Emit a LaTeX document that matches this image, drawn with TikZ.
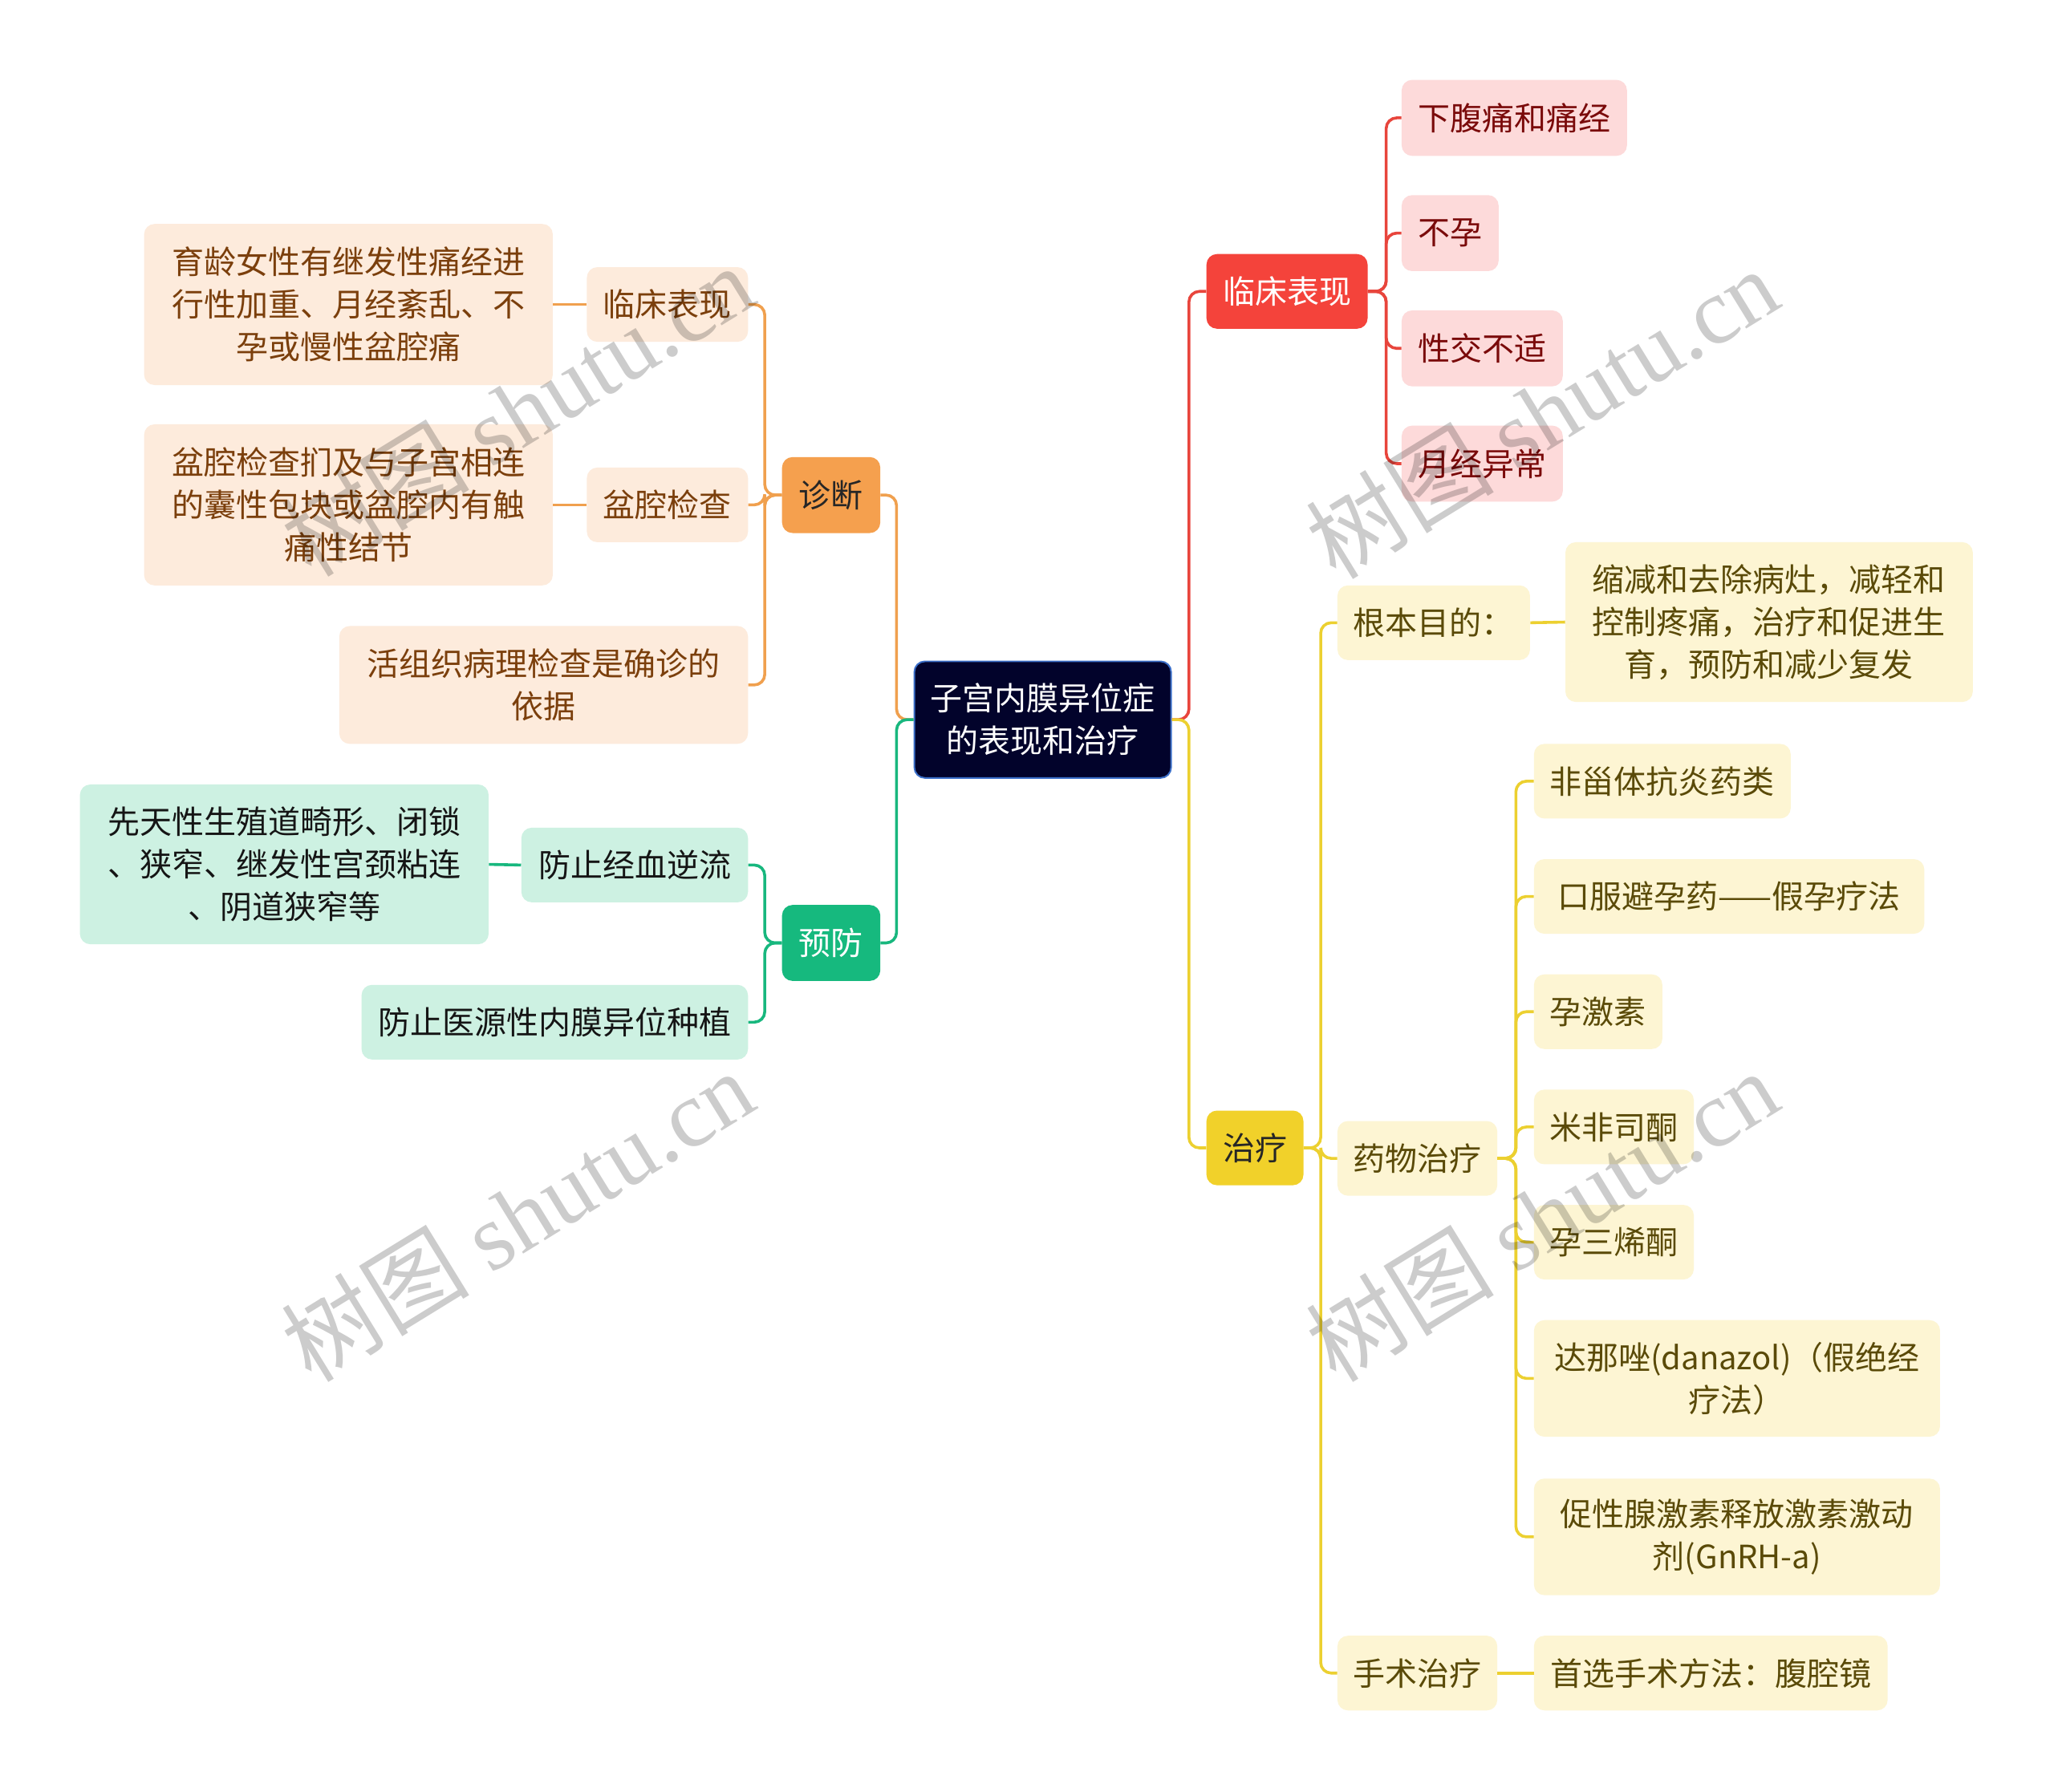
\documentclass[tikz,border=0pt]{standalone}
\usepackage{fontspec}
\setmainfont{Noto Sans CJK SC}
\newfontfamily\wmserif{Liberation Serif}
\usetikzlibrary{calc}
\definecolor{rootfill}{HTML}{02032B}
\definecolor{rootline}{HTML}{3B6FC9}
\definecolor{orgmain}{HTML}{F5A04E}
\definecolor{orglight}{HTML}{FDEBDC}
\definecolor{orgtext}{HTML}{7B3F0C}
\definecolor{orgline}{HTML}{F0A04E}
\definecolor{grnmain}{HTML}{16B97E}
\definecolor{grnlight}{HTML}{CDF1E2}
\definecolor{grntext}{HTML}{151515}
\definecolor{grnline}{HTML}{18B77E}
\definecolor{redmain}{HTML}{F4433B}
\definecolor{redlight}{HTML}{FDDADA}
\definecolor{redtext}{HTML}{7A0A0A}
\definecolor{redline}{HTML}{E8453C}
\definecolor{ylwmain}{HTML}{F1D12A}
\definecolor{ylwlight}{HTML}{FDF5D3}
\definecolor{ylwtext}{HTML}{5A4A08}
\definecolor{ylwline}{HTML}{ECD030}
\begin{document}
\begin{tikzpicture}[x=1pt,y=-1pt,
  box/.style={rectangle, rounded corners=8pt, inner sep=0pt, align=center,
    font=\fontsize{24.5}{32.5}\selectfont},
  rootbox/.style={box, fill=rootfill, draw=rootline, line width=1.2pt, text=white},
  orgbig/.style={box, fill=orgmain, text=black!85},
  orgsub/.style={box, fill=orglight, text=orgtext},
  grnbig/.style={box, fill=grnmain, text=white},
  grnsub/.style={box, fill=grnlight, text=grntext},
  redbig/.style={box, fill=redmain, text=white},
  redsub/.style={box, fill=redlight, text=redtext},
  ylwbig/.style={box, fill=ylwmain, text=black!85},
  ylwsub/.style={box, fill=ylwlight, text=ylwtext},
  link/.style={line width=2.2pt, rounded corners=8pt},
  wmark/.style={text=black, opacity=0.2, font=\fontsize{72}{72}\selectfont, inner sep=0pt}
]
\useasboundingbox (0,0) rectangle (1568,1368);
\fill[white] (0,0) rectangle (1568,1368);

% root
\node[rootbox, minimum width=196pt, minimum height=89pt] (root) at (796,549.5) {子宫内膜异位症\\的表现和治疗};

% left: diagnosis
\node[orgbig, minimum width=75pt, minimum height=58pt] (zd) at (634.5,378) {诊断};
\node[orgsub, minimum width=123pt, minimum height=57pt] (lcl) at (509.5,232.5) {临床表现};
\node[orgsub, minimum width=312pt, minimum height=123pt] (yl) at (266,232.5) {育龄女性有继发性痛经进\\行性加重、月经紊乱、不\\孕或慢性盆腔痛};
\node[orgsub, minimum width=123pt, minimum height=57pt] (pq) at (509.5,385.5) {盆腔检查};
\node[orgsub, minimum width=312pt, minimum height=123pt] (pqd) at (266,385.5) {盆腔检查扪及与子宫相连\\的囊性包块或盆腔内有触\\痛性结节};
\node[orgsub, minimum width=312pt, minimum height=90pt] (hz) at (415,523) {活组织病理检查是确诊的\\依据};

% left: prevention
\node[grnbig, minimum width=75pt, minimum height=58pt] (yf) at (634.5,720) {预防};
\node[grnsub, minimum width=173pt, minimum height=57pt] (jx) at (484.5,660.5) {防止经血逆流};
\node[grnsub, minimum width=312pt, minimum height=122pt] (xt) at (217,660) {先天性生殖道畸形、闭锁\\、狭窄、继发性宫颈粘连\\、阴道狭窄等};
\node[grnsub, minimum width=295pt, minimum height=57pt] (yy) at (423.5,780.5) {防止医源性内膜异位种植};

% right: clinical
\node[redbig, minimum width=123pt, minimum height=57pt] (rcl) at (982.5,222.5) {临床表现};
\node[redsub, minimum width=172pt, minimum height=58pt] (r1) at (1156,90) {下腹痛和痛经};
\node[redsub, minimum width=74pt, minimum height=58pt] (r2) at (1107,178) {不孕};
\node[redsub, minimum width=123pt, minimum height=58pt] (r3) at (1131.5,266) {性交不适};
\node[redsub, minimum width=123pt, minimum height=58pt] (r4) at (1131.5,354) {月经异常};

% right: treatment
\node[ylwbig, minimum width=74pt, minimum height=57pt] (zl) at (958,876.5) {治疗};
\node[ylwsub, minimum width=147pt, minimum height=57pt] (gb) at (1094.5,475.5) {根本目的：};
\node[ylwsub, minimum width=311pt, minimum height=122pt] (gbd) at (1350.5,475) {缩减和去除病灶，减轻和\\控制疼痛，治疗和促进生\\育，预防和减少复发};
\node[ylwsub, minimum width=122pt, minimum height=57pt] (yw) at (1082,884.5) {药物治疗};
\node[ylwsub, minimum width=196pt, minimum height=57pt] (d1) at (1269,596.5) {非甾体抗炎药类};
\node[ylwsub, minimum width=298pt, minimum height=57pt] (d2) at (1320,684.5) {口服避孕药——假孕疗法};
\node[ylwsub, minimum width=98pt, minimum height=57pt] (d3) at (1220,772.5) {孕激素};
\node[ylwsub, minimum width=122pt, minimum height=57pt] (d4) at (1232,860.5) {米非司酮};
\node[ylwsub, minimum width=122pt, minimum height=57pt] (d5) at (1232,948.5) {孕三烯酮};
\node[ylwsub, minimum width=310pt, minimum height=89pt] (d6) at (1326,1052.5) {达那唑(danazol)（假绝经\\疗法）};
\node[ylwsub, minimum width=310pt, minimum height=89pt] (d7) at (1326,1173.5) {促性腺激素释放激素激动\\剂(GnRH-a)};
\node[ylwsub, minimum width=122pt, minimum height=57pt] (ss) at (1082,1277.5) {手术治疗};
\node[ylwsub, minimum width=270pt, minimum height=57pt] (ssd) at (1306,1277.5) {首选手术方法：腹腔镜};

% connectors: root
\draw[link, orgline] (root.west) -- ++(-13,0) |- (zd.east);
\draw[link, grnline] (root.west) -- ++(-13,0) |- (yf.east);
\draw[link, redline] (root.east) -- ++(13,0) |- (rcl.west);
\draw[link, ylwline] (root.east) -- ++(13,0) |- (zl.west);

% diagnosis
\foreach \c in {lcl,pq,hz} \draw[link, orgline] (zd.west) -- ++(-13,0) |- (\c.east);
\draw[link, orgline] (lcl.west) -- (yl.east);
\draw[link, orgline] (pq.west) -- (pqd.east);

% prevention
\foreach \c in {jx,yy} \draw[link, grnline] (yf.west) -- ++(-13,0) |- (\c.east);
\draw[link, grnline] (jx.west) -- (xt.east);

% clinical right
\foreach \c in {r1,r2,r3,r4} \draw[link, redline] (rcl.east) -- ++(14,0) |- (\c.west);

% treatment
\foreach \c in {gb,yw,ss} \draw[link, ylwline] (zl.east) -- ++(13,0) |- (\c.west);
\draw[link, ylwline] (gb.east) -- (gbd.west);
\foreach \c in {d1,d2,d3,d4,d5,d6,d7} \draw[link, ylwline] (yw.east) -- ++(14,0) |- (\c.west);
\draw[link, ylwline] (ss.east) -- (ssd.west);

% watermarks
\node[wmark, rotate=31.6] (wm1) at (395,313) {树图 {\wmserif shutu.cn}};
\node[wmark, rotate=31.6] (wm2) at (1177,315) {树图 {\wmserif shutu.cn}};
\node[wmark, rotate=31.6] (wm3) at (395,928) {树图 {\wmserif shutu.cn}};
\node[wmark, rotate=31.6] (wm4) at (1177,928) {树图 {\wmserif shutu.cn}};
\end{tikzpicture}
\end{document}
